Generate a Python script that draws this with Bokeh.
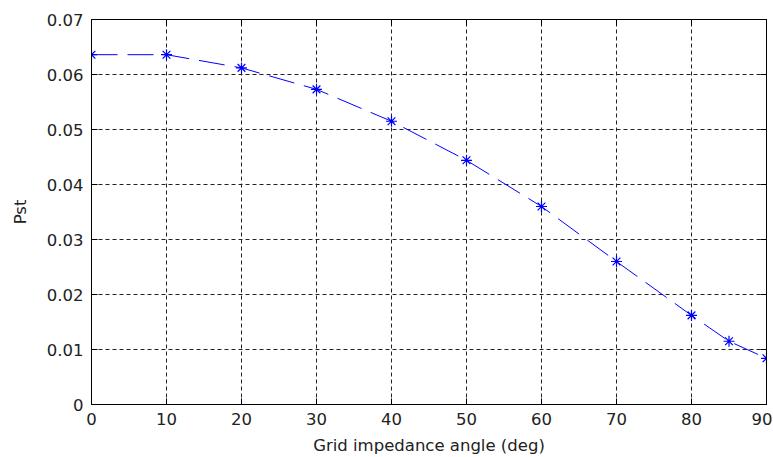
from bokeh.plotting import figure
from bokeh.models import ColumnDataSource, Range1d, LinearAxis, FixedTicker
from bokeh.embed import file_html
from bokeh.resources import INLINE

# Data
angle_deg = [0, 10, 20, 30, 40, 50, 60, 70, 80, 85, 90]
pst = [0.0636, 0.0636, 0.0612, 0.0573, 0.0515, 0.0444, 0.0360, 0.0260, 0.0162, 0.0115, 0.0084]
x_ticks = [0, 10, 20, 30, 40, 50, 60, 70, 80, 90]
y_ticks = [0.0, 0.01, 0.02, 0.03, 0.04, 0.05, 0.06, 0.07]
y_tick_labels = ["0", "0.01", "0.02", "0.03", "0.04", "0.05", "0.06", "0.07"]
x_label = "Grid impedance angle (deg)"
y_label = "Pst"

src = ColumnDataSource(dict(x=angle_deg, y=pst))

p = figure(frame_width=675, frame_height=385,
           min_border_left=91, min_border_top=19, min_border_right=6, min_border_bottom=52,
           x_range=Range1d(0, 90), y_range=Range1d(0, 0.07),
           output_backend="svg", toolbar_location=None,
           background_fill_color="white", border_fill_color="white")

p.outline_line_color = "black"
p.outline_line_width = 1

FONT = "DejaVu Sans"
TXT = "#222222"

for ax in (p.xaxis[0], p.yaxis[0]):
    ax.major_tick_in = 6
    ax.major_tick_out = 0
    ax.minor_tick_in = 0
    ax.minor_tick_out = 0
    ax.axis_line_color = "black"
    ax.major_tick_line_color = "black"
    ax.major_label_text_font = FONT
    ax.major_label_text_font_size = "16.5px"
    ax.major_label_text_color = TXT
    ax.major_label_standoff = 8
    ax.axis_label_text_font = FONT
    ax.axis_label_text_font_size = "16.5px"
    ax.axis_label_text_font_style = "normal"
    ax.axis_label_text_color = TXT

p.xaxis[0].ticker = FixedTicker(ticks=x_ticks)
p.yaxis[0].ticker = FixedTicker(ticks=y_ticks)
p.yaxis[0].major_label_overrides = {v: s for v, s in zip(y_ticks, y_tick_labels)}
p.xaxis[0].axis_label = x_label
p.yaxis[0].axis_label = y_label
p.xaxis[0].axis_label_standoff = 8
p.yaxis[0].axis_label_standoff = 14

# Mirror axes (top/right) with inward ticks, labels left empty
top = LinearAxis(ticker=FixedTicker(ticks=x_ticks),
                 major_label_overrides={v: "" for v in x_ticks},
                 major_tick_in=6, major_tick_out=0, minor_tick_in=0, minor_tick_out=0,
                 major_label_standoff=0, axis_line_color="black")
right = LinearAxis(ticker=FixedTicker(ticks=y_ticks),
                   major_label_overrides={v: "" for v in y_ticks},
                   major_tick_in=6, major_tick_out=0, minor_tick_in=0, minor_tick_out=0,
                   major_label_standoff=0, axis_line_color="black")
p.add_layout(top, "above")
p.add_layout(right, "right")

p.xgrid.ticker = FixedTicker(ticks=x_ticks)
p.ygrid.ticker = FixedTicker(ticks=y_ticks)
for g in (p.xgrid, p.ygrid):
    g.grid_line_color = "#222222"
    g.grid_line_dash = "4 3"
    g.grid_line_width = 1

p.line("x", "y", source=src, line_color="#0000ff", line_width=1, line_dash="26 10")
p.scatter("x", "y", source=src, marker="asterisk", size=11, line_color="#0000ff", line_width=1.2)

open("out.html", "w").write(file_html(p, INLINE))
